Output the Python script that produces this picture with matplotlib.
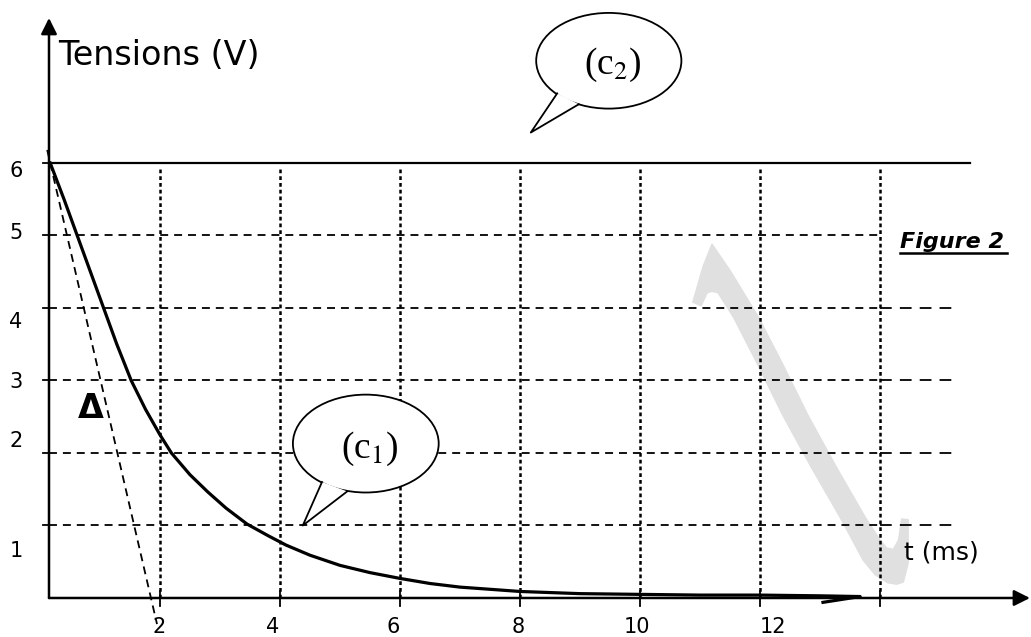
import matplotlib
matplotlib.use("Agg")
import matplotlib.pyplot as plt
from matplotlib.patches import Ellipse, Polygon

plt.rcParams['mathtext.fontset'] = 'stix'

# courbe (c1) : decharge
t_c1 = [0.17, 0.4, 0.62, 0.84, 1.06, 1.28, 1.52, 1.76, 2.0, 2.19, 2.5, 2.8, 3.1, 3.45,
        3.8, 4.1, 4.5, 5.0, 5.5, 6.0, 6.5, 7.0, 7.5, 8.0, 9.0, 10.0, 11.0, 12.0, 13.0,
        13.67, 13.05]
v_c1 = [6.0, 5.5, 5.0, 4.5, 4.0, 3.5, 3.0, 2.6, 2.25, 2.0, 1.7, 1.46, 1.24, 1.02,
        0.86, 0.73, 0.59, 0.45, 0.35, 0.27, 0.2, 0.15, 0.12, 0.09, 0.06, 0.05, 0.04, 0.04, 0.03,
        0.02, -0.06]

# courbe (c2) : tension constante
t_c2 = [0.15, 15.5]
v_c2 = [6, 6]

# tangente a l'origine
t_tan = [0.12, 1.95]
v_tan = [6.18, -0.36]

x_ticks = [2, 4, 6, 8, 10, 12, 14]
x_labels = ["2", "4", "6", "8", "10", "12"]
x_label_at = [1.98, 3.88, 5.88, 7.97, 9.95, 12.22]
y_ticks = [1, 2, 3, 4, 5, 6]
y_labels = ["1", "2", "3", "4", "5", "6"]
y_label_at = [0.65, 2.16, 2.98, 3.81, 5.03, 5.89]

# filigrane gris
wm = [(11.2, 4.88), (11.05, 4.57), (10.88, 4.08), (11.02, 4.03), (11.12, 4.21),
      (11.2, 4.23), (11.3, 4.21), (11.56, 3.87), (11.95, 3.24), (12.38, 2.52),
      (12.85, 1.81), (13.33, 1.12), (13.63, 0.66), (13.72, 0.52), (13.92, 0.32),
      (14.13, 0.21), (14.28, 0.19), (14.39, 0.22), (14.47, 0.48), (14.47, 1.08),
      (14.36, 1.09), (14.31, 0.8), (14.22, 0.67), (14.11, 0.69), (14.0, 0.8),
      (13.75, 1.12), (13.27, 1.81), (12.8, 2.52), (12.37, 3.24), (11.97, 3.88),
      (11.5, 4.52)]

fig = plt.figure(figsize=(10.31, 6.37), dpi=100)
ax = fig.add_axes([0, 0, 1, 1])
ax.set_xlim(-0.6667, 16.517)
ax.set_ylim(-0.538, 8.248)
ax.axis('off')

ax.add_patch(Polygon(wm, closed=True, facecolor='#e0e0e0', edgecolor='#e0e0e0',
                     lw=1, joinstyle='round', zorder=1))

x0 = 0.15  # position de l'axe vertical

# quadrillage
for t in x_ticks:
    ax.plot([t, t], [0, 5.94], color='k', lw=1.8, dashes=(1.5, 1.2), zorder=2)
for v in y_ticks[:-1]:
    ax.plot([x0, 14], [v, v], color='k', lw=1.3, dashes=(4.4, 3.3), zorder=2)
for v in y_ticks[:4]:
    ax.plot([14, 15.25], [v, v], color='k', lw=1.3, dashes=(6.5, 4.5), zorder=2)

# graduations
for t in x_ticks:
    ax.plot([t, t], [0.09, -0.11], color='k', lw=1.3, zorder=3)
for v in y_ticks:
    ax.plot([0.05, x0], [v, v], color='k', lw=1.3, zorder=3)

# axes avec fleches
ax.annotate('', xy=(x0, 8.0), xytext=(x0, 0),
            arrowprops=dict(arrowstyle='-|>', lw=1.8, color='k', mutation_scale=24,
                            shrinkA=0, shrinkB=0), zorder=4)
ax.annotate('', xy=(16.5, 0), xytext=(x0, 0),
            arrowprops=dict(arrowstyle='-|>', lw=1.8, color='k', mutation_scale=24,
                            shrinkA=0, shrinkB=0), zorder=4)

ax.plot(t_c2, v_c2, color='k', lw=1.6, zorder=4)
ax.plot(t_c1, v_c1, color='k', lw=2.3, zorder=5, solid_joinstyle='round')
ax.plot(t_tan, v_tan, color='k', lw=1.3, dashes=(4.4, 3.0), zorder=5)

for lab, t in zip(x_labels, x_label_at):
    ax.text(t, -0.4, lab, ha='center', va='center', fontsize=15)
for lab, v in zip(y_labels, y_label_at):
    ax.text(-0.4, v, lab, ha='center', va='center', fontsize=15)

ax.text(0.3, 7.48, "Tensions (V)", ha='left', va='center', fontsize=24)
ax.text(15.02, 0.63, "t (ms)", ha='center', va='center', fontsize=18)
ax.text(14.33, 4.91, "Figure 2", ha='left', va='center', fontsize=16,
        fontweight='bold', style='italic')
ax.plot([14.33, 16.12], [4.76, 4.76], color='k', lw=1.8)
ax.text(0.85, 2.61, "Δ", ha='center', va='center', fontsize=24, fontweight='bold')


def bulle(cx, cy, w, h, queue, texte, tx, ty):
    ax.add_patch(Ellipse((cx, cy), w, h, facecolor='white', edgecolor='k', lw=1.3, zorder=6))
    ax.add_patch(Polygon(queue, closed=True, facecolor='white', edgecolor='none', zorder=7))
    qx = [p[0] for p in queue]
    qy = [p[1] for p in queue]
    ax.plot(qx, qy, color='k', lw=1.3, zorder=8)
    ax.text(tx, ty, texte, ha='center', va='center', fontsize=27,
            family='Liberation Serif', zorder=9)


bulle(5.43, 2.13, 2.43, 1.35, [(4.70, 1.60), (4.38, 1.00), (5.12, 1.47)],
      r"(c$_1$)", 5.5, 2.05)
bulle(9.48, 7.41, 2.42, 1.32, [(8.62, 6.96), (8.18, 6.42), (8.98, 6.81)],
      r"(c$_2$)", 9.55, 7.35)

fig.savefig("out.png", dpi=100)
